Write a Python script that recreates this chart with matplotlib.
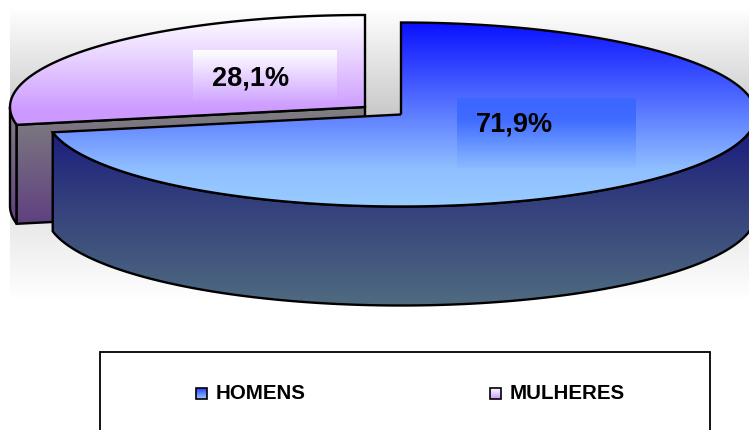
"""Exploded 3D-style pie, HOMENS vs MULHERES."""

import matplotlib

matplotlib.use("Agg")
import matplotlib.pyplot as plt
import numpy as np
from matplotlib.colors import LinearSegmentedColormap
from matplotlib.patches import Polygon, Rectangle

categories = ["HOMENS", "MULHERES"]
shares = [71.9, 28.1]
value_labels = ["71,9%", "28,1%"]

plt.rcParams["font.family"] = ["Liberation Sans", "DejaVu Sans"]

RX, RY, DEPTH = 355, 92, 99
CENTER_M = (401, 114.5)
CENTER_F = (365, 107)


def arc(center, start, stop, n=200, drop=0):
    # angles in degrees, clockwise from 12 o'clock
    t = np.radians(np.linspace(start, stop, n))
    return np.column_stack(
        [center[0] + RX * np.sin(t), center[1] - RY * np.cos(t) + drop]
    )


def gradient(ax, box, stops, clip=None, zorder=1):
    # vertical gradient, stops listed top to bottom
    x0, x1, y0, y1 = box
    cmap = LinearSegmentedColormap.from_list("g", stops)
    img = ax.imshow(
        np.linspace(0, 1, 256)[:, None],
        cmap=cmap,
        extent=(x0, x1, y1, y0),
        aspect="auto",
        interpolation="bilinear",
        zorder=zorder,
    )
    if clip is not None:
        patch = Polygon(clip, closed=True, transform=ax.transData, fc="none", ec="none")
        ax.add_patch(patch)
        img.set_clip_path(patch)


def outline(ax, pts, zorder, closed=True):
    ax.add_patch(Polygon(pts, closed=closed, fill=False, ec="black", lw=1.7, zorder=zorder))


fig = plt.figure(figsize=(7.49, 4.30), dpi=100)
ax = fig.add_axes([0, 0, 1, 1])

# plot-area backdrop
gradient(
    ax,
    (10, 749, 8, 300),
    [(0, "#ffffff"), (0.36, "#c9c9c9"), (1, "#ffffff")],
    zorder=1,
)

split = shares[0] / sum(shares) * 360

# purple slice: outer wall, cut face, top
f_edge = arc(CENTER_F, split, 360)
f_apex = np.array(CENTER_F)
f_wall_arc = arc(CENTER_F, split, 270, 30)
f_wall = np.vstack([f_wall_arc, (f_wall_arc + [0, DEPTH])[::-1]])
f_stops = [(0, "#808080"), (1, "#5f3f80")]
gradient(ax, (5, 40, 110, 225), f_stops, clip=f_wall, zorder=2)
outline(ax, f_wall, 2.1)

f_face = np.array(
    [f_apex, f_edge[0], f_edge[0] + [0, DEPTH], f_apex + [0, DEPTH]]
)
gradient(ax, (10, 370, 107, 225), f_stops, clip=f_face, zorder=3)
outline(ax, f_face, 3.1)

f_top = np.vstack([f_apex, f_edge])
gradient(
    ax,
    (5, 370, 15, 125),
    [(0, "#ffffff"), (0.88, "#cc99ff"), (1, "#cc99ff")],
    clip=f_top,
    zorder=4,
)

# blue slice: outer wall and top
m_front = arc(CENTER_M, 90, split)
m_wall = np.vstack([m_front, (m_front + [0, DEPTH])[::-1]])
gradient(
    ax,
    (40, 760, 115, 306),
    [(0, "#16167e"), (0.45, "#333f7c"), (1, "#4f6b80")],
    clip=m_wall,
    zorder=5,
)
outline(ax, m_wall, 5.1)

m_edge = arc(CENTER_M, 0, split)
m_top = np.vstack([CENTER_M, m_edge])
gradient(
    ax,
    (40, 760, 22, 207),
    [(0, "#0a10ff"), (0.8, "#90c0ff"), (1, "#99ccff")],
    clip=m_top,
    zorder=6,
)

# value label backgrounds
gradient(ax, (193, 337, 50, 100), [(0, "#ffffff"), (1, "#d2aaff")], zorder=7)
gradient(
    ax,
    (457, 636, 98, 168),
    [(0, "#3b66ff"), (0.3, "#3f6bff"), (1, "#8abaff")],
    zorder=7,
)

outline(ax, f_top, 8)
outline(ax, m_top, 8)

ax.text(250.5, 78, value_labels[1], fontsize=19.5, fontweight="bold", ha="center", va="center", zorder=9)
ax.text(514, 125, value_labels[0], fontsize=19.5, fontweight="bold", ha="center", va="center", zorder=9)

# legend
ax.add_patch(Rectangle((100, 352), 610, 100, fc="white", ec="black", lw=1.3, zorder=10))
swatches = [
    (196, 216, [(0, "#2a3cff"), (1, "#99ccff")]),
    (490, 510, [(0, "#ffffff"), (1, "#cc99ff")]),
]
for name, (sx, tx, stops) in zip(categories, swatches):
    gradient(ax, (sx, sx + 11, 388, 399), stops, zorder=11)
    ax.add_patch(Rectangle((sx, 388), 11, 11, fill=False, ec="black", lw=1.2, zorder=12))
    ax.text(tx, 393.5, name, fontsize=14.8, fontweight="bold", ha="left", va="center", zorder=12)

ax.set_xlim(0, 749)
ax.set_ylim(430, 0)
ax.axis("off")

fig.savefig("out.png", dpi=100)
